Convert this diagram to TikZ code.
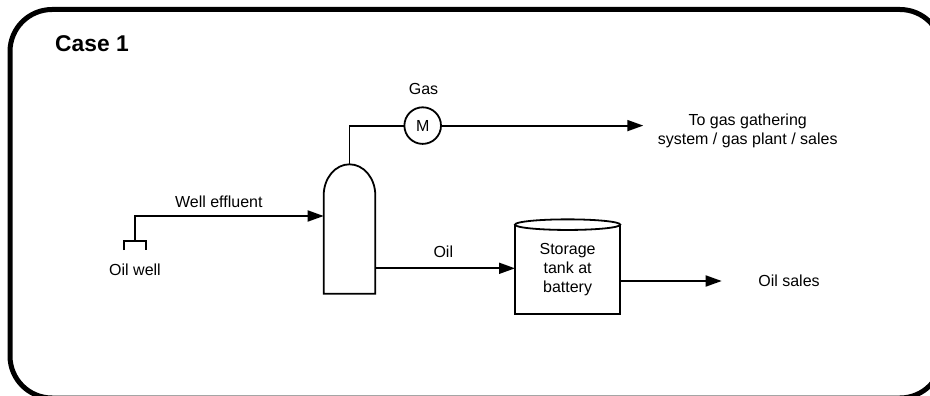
\documentclass[tikz,border=0pt]{standalone}
\usepackage{fontspec}
\setmainfont{Liberation Sans}
\usepackage{tikz}
\usetikzlibrary{arrows.meta}

\tikzset{
  pipe/.style={line width=1.8pt},
  flow/.style={pipe,-{Triangle[length=16pt,width=11pt]}},
  txt/.style={font=\fontsize{16}{19}\selectfont,align=center,inner sep=0pt},
  vesselbox/.style={minimum width=51.6pt,minimum height=129.4pt,inner sep=0pt,outer sep=0pt},
  tankbox/.style={txt,minimum width=105.3pt,minimum height=89.3pt,outer sep=0pt},
  meterbox/.style={txt,draw,pipe,circle,minimum size=36.6pt,outer sep=0pt}
}

\begin{document}
\begin{tikzpicture}[x=1pt,y=-1pt]
        \clip (0,0) rectangle (930,396);
        \draw[line width=5pt,rounded corners=42pt] (10,9.5) rectangle (942,398);
        \node[font=\fontsize{22.8}{26}\selectfont\bfseries,anchor=west,inner sep=0pt] (casetitle) at (55,43.5) {Case 1};

        \node[vesselbox] (vessel) at (349.5,229) {};
        \node[tankbox] (tank) at (567.6,269.3) {Storage\\tank at\\battery};
        \node[meterbox] (meter) at (422.7,125.6) {M};
        \coordinate (wellhead) at (135,240.7);
        \coordinate (vesselin) at (323.7,216);
        \coordinate (oilout) at (375.3,268.3);
        \coordinate (oilin) at (515,268.3);
        \coordinate (salesout) at (620.3,281);
        \coordinate (salesend) at (721.7,281);
        \coordinate (gasend) at (643.3,125.6);

        \draw[pipe] (vessel.south west) -- ++(0,-98.4) arc[start angle=180,end angle=360,x radius=25.8,y radius=31] -- (vessel.south east) -- cycle;
        \draw[pipe] (tank.north west) -- (tank.south west) -- (tank.south east) -- (tank.north east);
        \draw[pipe] (tank.north) ellipse [x radius=52.65,y radius=5.3];
        \draw[pipe] (124.3,250) |- (wellhead) -| (146,250);

        \draw[flow] (wellhead) |- (vesselin);
        \draw[pipe] (vessel.north) |- (meter);
        \draw[flow] (meter) -- (gasend);
        \draw[flow] (oilout) -- (oilin);
        \draw[flow] (salesout) -- (salesend);

        \node[txt] (welllabel) at (135,270) {Oil well};
        \node[txt] (effluentlabel) at (218.8,201.7) {Well effluent};
        \node[txt] (gaslabel) at (423.5,88.5) {Gas};
        \node[txt] (oillabel) at (443.3,251.7) {Oil};
        \node[txt] (gasdest) at (747.7,130.5) {To gas gathering\\system / gas plant / sales};
        \node[txt] (oildest) at (789,281) {Oil sales};
    \end{tikzpicture}
\end{document}
